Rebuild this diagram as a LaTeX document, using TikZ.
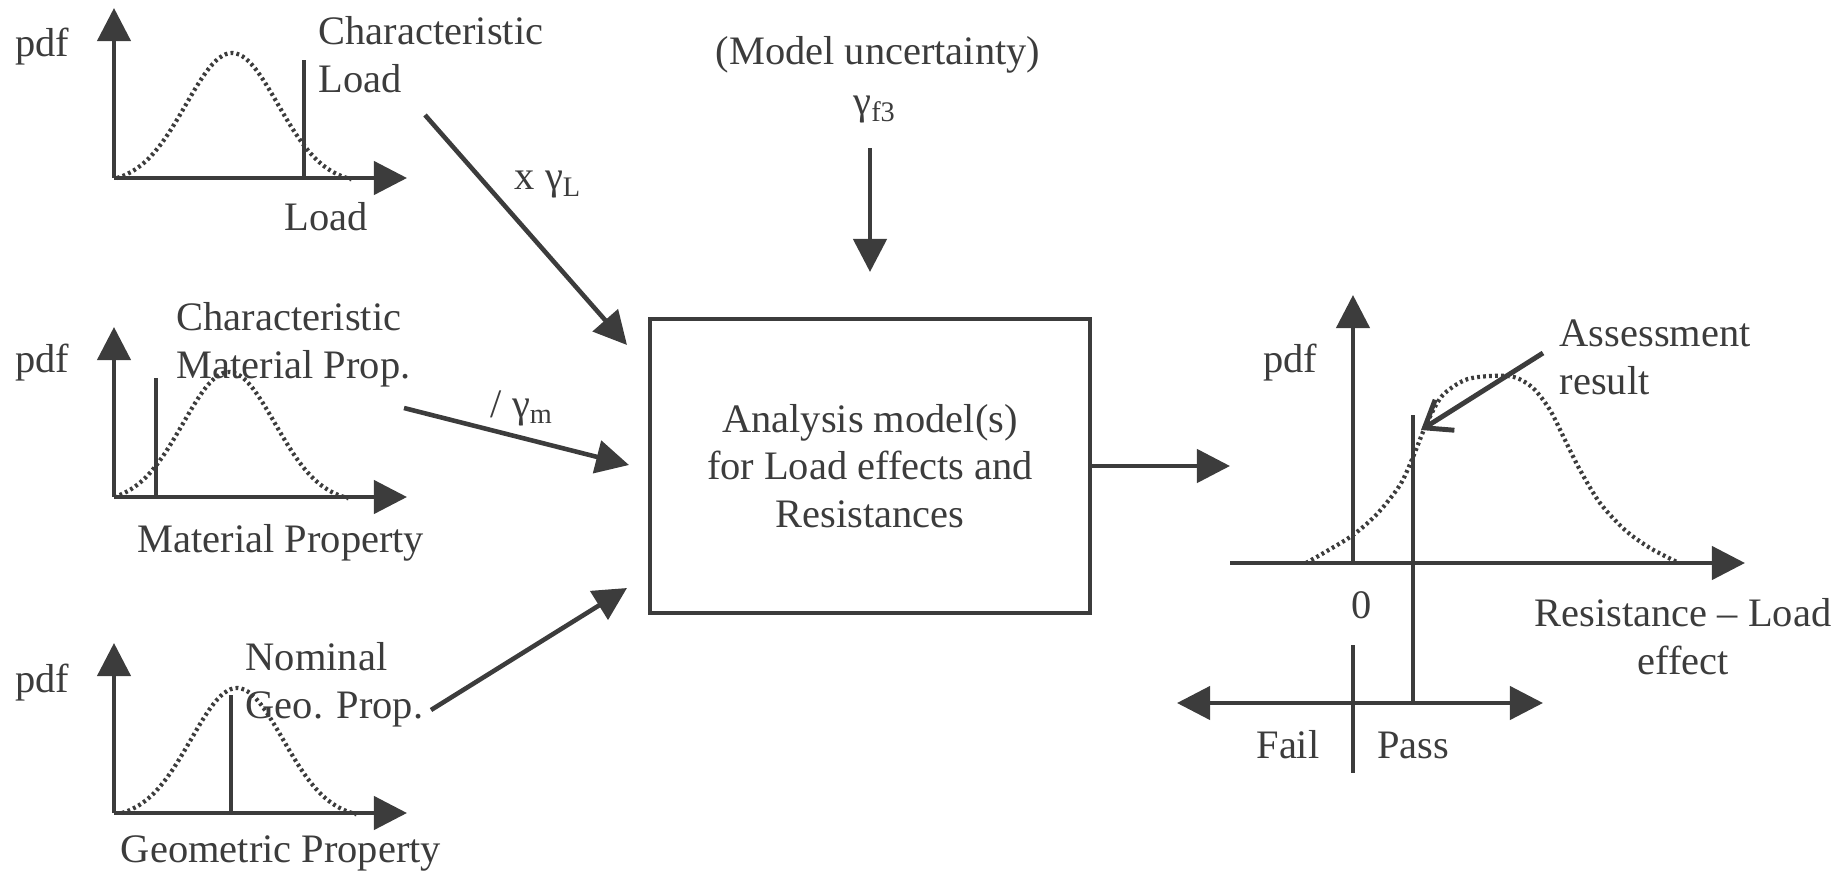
\documentclass[tikz,border=0pt]{standalone}
\usepackage{fontspec}
\setmainfont{Liberation Serif}
\usepackage{tikz}
\usetikzlibrary{arrows.meta,positioning}
\definecolor{ink}{RGB}{60,60,60}

\begin{document}
\begin{tikzpicture}[
  x={(0.01cm,0cm)},y={(0cm,-0.01cm)},
  >={Triangle[length=3.3mm,width=3.3mm]},
  font=\fontsize{11.5}{13.6}\selectfont,
  every node/.style={text=ink,inner sep=0pt},
  axis/.style={->,draw=ink,line width=1.2pt},
  arr/.style={->,draw=ink,line width=1.3pt},
  cutline/.style={draw=ink,line width=1.1pt},
  pdfcurve/.style={draw=ink,line width=1.2pt,dash pattern=on 0.8pt off 0.9pt},
  declare function={bell(\t)=(exp(-(\t)^2/2)-0.044)/0.956;}
]
  \useasboundingbox (0,0) rectangle (1847,878);

  % the three input pdfs
  \foreach \oy/\px in {178/232,497/229,813/237}{
    \draw[axis] (114,\oy) -- ++(0,-170);
    \draw[axis] (114,\oy) -- ++(293,0);
    \draw[pdfcurve] plot[domain=-2.5:2.6,samples=70,smooth]
      ({\px+46*\x},{\oy-125*bell(\x)});
  }
  \draw[cutline] (304,178) -- (304,60);
  \draw[cutline] (156,497) -- (156,378);
  \draw[cutline] (231,813) -- (231,695);

  \node (Tpdf) at (42,47) {pdf};
  \node[anchor=west,align=left] (Tchar) at (318,55) {Characteristic\\Load};
  \node (Tlab) at (326,217) {Load};
  \node (Mpdf) at (42,363) {pdf};
  \node[anchor=west,align=left] (Mchar) at (176,345) {Characteristic\\Material Prop.};
  \node (Mlab) at (281,543) {Material Property};
  \node (Bpdf) at (42,683) {pdf};
  \node[anchor=west,align=left] (Bchar) at (245,685) {Nominal\\Geo. Prop.};
  \node (Blab) at (281,853) {Geometric Property};

  % analysis model
  \node[draw=ink,line width=1.2pt,minimum width=4.4cm,minimum height=2.94cm,
    align=center] (model) at (870,466)
    {Analysis model(s)\\for Load effects and\\Resistances};
  \node (mu) at (878,55) {(Model uncertainty)};
  \node (gf3) at (875,110) {γ\textsubscript{f3}};

  \coordinate (loadtail) at (425,115);
  \coordinate (loadtip) at (627,345);
  \coordinate (mattail) at (404,408);
  \coordinate (mattip) at (629,465);
  \coordinate (geotail) at (431,710);
  \coordinate (geotip) at (627,588);
  \coordinate (g3tail) at (870,148);
  \coordinate (g3tip) at (870,272);
  \coordinate (Rin) at (1230,466);

  \draw[arr] (loadtail) -- (loadtip);
  \draw[arr] (mattail) -- (mattip);
  \draw[arr] (geotail) -- (geotip);
  \draw[arr] (g3tail) -- (g3tip);
  \draw[arr] (model.east) -- (Rin);
  \node[anchor=west] (gL) at (514,185) {x γ\textsubscript{L}};
  \node[anchor=west] (gm) at (490,408) {/ γ\textsubscript{m}};

  % assessment result
  \coordinate (R0) at (1353,563);
  \draw[axis] (R0) -- (1353,295);
  \draw[axis] (1230,563) -- (1745,563);
  \draw[pdfcurve] plot[smooth] coordinates {(1306,563) (1327,551) (1353,535)
    (1377,514) (1400,485) (1413,457) (1426,425) (1442,396) (1465,380)
    (1490,376) (1514,377) (1533,388) (1550,410) (1565,440) (1580,470)
    (1600,503) (1625,530) (1650,548) (1677,562)};
  \draw[cutline] (1413,415) -- (1413,703);
  \draw[cutline] (1353,645) -- (1353,773);
  \coordinate (failend) at (1177,703);
  \coordinate (passend) at (1543,703);
  \draw[axis,<->] (failend) -- (passend);
  \coordinate (assesstail) at (1543,353);
  \coordinate (assesstip) at (1421,430);
  \draw[draw=ink,line width=1.4pt,-{Straight Barb[length=2.4mm,width=3.6mm]}]
    (assesstail) -- (assesstip);

  \node (Rpdf) at (1290,363) {pdf};
  \node (zero) at (1362,605) {0};
  \node[anchor=west,align=left] (assess) at (1559,357) {Assessment\\result};
  \node[align=center] (RL) at (1683,637) {Resistance -- Load\\effect};
  \node (fail) at (1288,745) {Fail};
  \node (pass) at (1413,745) {Pass};
\end{tikzpicture}
\end{document}
